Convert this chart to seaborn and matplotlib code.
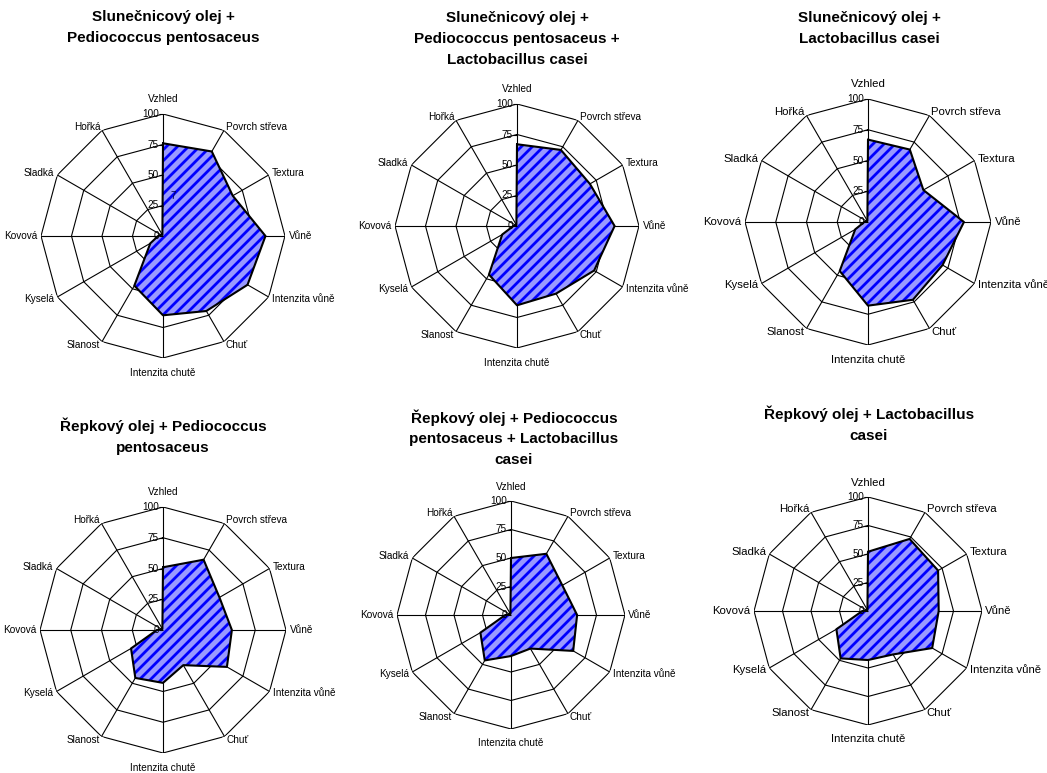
import numpy as np
import pandas as pd
import matplotlib
matplotlib.use("Agg")
import matplotlib.pyplot as plt
import seaborn as sns
from matplotlib.collections import LineCollection

# DATA

labels = ["Vzhled", "Povrch střeva", "Textura", "Vůně", "Intenzita vůně", "Chuť",
          "Intenzita chutě", "Slanost", "Kyselá", "Kovová", "Sladká", "Hořká"]
levels = [0, 25, 50, 75, 100]

titles = ["Slunečnicový olej +\nPediococcus pentosaceus",
          "Slunečnicový olej +\nPediococcus pentosaceus +\nLactobacillus casei",
          "Slunečnicový olej +\nLactobacillus casei",
          "Řepkový olej + Pediococcus\npentosaceus",
          "Řepkový olej + Pediococcus\npentosaceus + Lactobacillus\ncasei",
          "Řepkový olej + Lactobacillus\ncasei"]

slun_pp = [76, 80, 66, 84, 80, 71, 65, 47, 12, 4, 2, 1]
slun_pp_lc = [67, 72, 69, 80, 73, 64, 65, 46, 14, 3, 1, 1]
slun_lc = [67, 68, 52, 78, 70, 73, 68, 46, 12, 3, 1, 1]
rep_pp = [51, 66, 53, 56, 60, 33, 43, 45, 30, 5, 1, 1]
rep_pp_lc = [50, 62, 52, 58, 63, 34, 36, 46, 31, 5, 1, 1]
rep_lc = [52, 73, 71, 62, 65, 44, 43, 48, 32, 5, 1, 1]

series = [slun_pp, slun_pp_lc, slun_lc, rep_pp, rep_pp_lc, rep_lc]

# LAYOUT (pixel centre x, centre y, radius) and title placement

W, H = 1047, 773
layout = [(163, 236, 122), (517, 226, 122), (868, 222, 123),
          (163, 630, 123), (511, 615, 114), (868, 611, 114)]
title_pos = [(163, 10), (517, 11), (869, 11), (163, 418), (514, 409), (869, 406)]
label_size = [7.2, 7.2, 8.2, 7.2, 7.2, 8.2]

sns.set_theme(style="white")
plt.rcParams['font.family'] = ['Liberation Sans', 'DejaVu Sans']

fig = plt.figure(figsize=(W / 100, H / 100), dpi=100)

n = len(labels)
theta = np.arange(n) * 2 * np.pi / n
theta_closed = np.append(theta, 2 * np.pi)

for i, vals in enumerate(series):
    cx, cy, r = layout[i]
    ax = fig.add_axes([(cx - r) / W, 1 - (cy + r) / H, 2 * r / W, 2 * r / H],
                      projection="polar")
    ax.set_theta_zero_location("N")
    ax.set_theta_direction(-1)
    ax.set_facecolor("white")
    ax.spines["polar"].set_visible(False)

    # polygon grid
    for lv in levels[1:]:
        ax.plot(theta_closed, [lv] * (n + 1), color="black", lw=0.8, zorder=1)
    ax.set_xticks(theta)
    ax.set_xticklabels([])
    ax.set_yticks([])
    ax.xaxis.grid(True, color="black", lw=0.8)
    ax.yaxis.grid(False)
    ax.set_ylim(0, 100)

    # filled area with stripes
    closed = list(vals) + [vals[0]]
    patch = ax.fill(theta_closed, closed, facecolor="#9999ff", edgecolor="none", zorder=2)[0]
    step = 11.0 / (2 * r)
    cs = np.arange(-1.0, 1.0 + step, step)
    segs = [[(0, c), (1, 1 + c)] for c in cs]
    lc = LineCollection(segs, transform=ax.transAxes, colors="#0000ff",
                        linewidths=2.0, zorder=3)
    lc.set_clip_path(patch)
    ax.add_collection(lc, autolim=False)

    df = pd.DataFrame({"theta": theta_closed, "value": closed})
    sns.lineplot(data=df, x="theta", y="value", sort=False, estimator=None,
                 color="black", lw=1.5, ax=ax, zorder=4)
    ax.set_xlabel("")
    ax.set_ylabel("")
    ax.set_ylim(0, 100)

    # radial ticks and labels
    ax.plot([0] * len(levels), levels, marker=0, ls="none", color="black",
            ms=3, mew=0.8, zorder=5, clip_on=False)
    for lv in levels:
        ax.annotate(str(lv), xy=(0, lv), xytext=(-3, 0), textcoords="offset points",
                    ha="right", va="center", fontsize=7.2, color="black", zorder=6)

    # category labels
    for t, lab in zip(theta, labels):
        s, c = np.sin(t), np.cos(t)
        if s > 0.1:
            ha = "left"
        elif s < -0.1:
            ha = "right"
        else:
            ha = "center"
        if c > 0.9:
            va, rr = "bottom", 108
        elif c < -0.9:
            va, rr = "top", 108
        else:
            va, rr = "center", 103
        ax.text(t, rr, lab, ha=ha, va=va, fontsize=label_size[i], color="black")

    if i == 0:
        ax.text(0.24, 34, "7", ha="center", va="center", fontsize=7, color="#000050", zorder=6)

    tx, ty = title_pos[i]
    fig.text(tx / W, 1 - ty / H, titles[i], ha="center", va="top",
             fontsize=11, fontweight="bold", color="black", linespacing=1.62)

fig.savefig("out.png", dpi=100)
